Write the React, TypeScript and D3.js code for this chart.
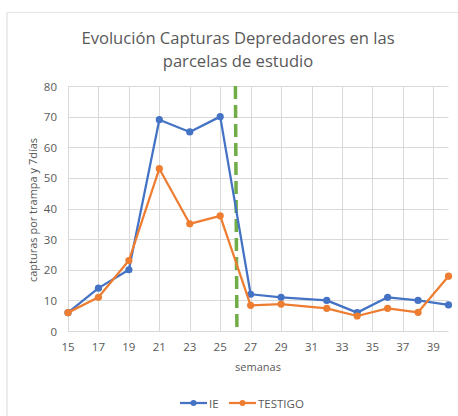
import React, { useEffect, useRef } from 'react';
import * as d3 from 'd3';

// semanas de muestreo
const semanas = [15, 17, 19, 21, 23, 25, 27, 29, 32, 34, 36, 38, 40];
const ieValues = [6, 14, 20, 69, 65, 70, 12, 11, 10, 6, 11, 10, 8.5];
const testigoValues = [6, 11, 23, 53, 35, 37.6, 8.4, 8.8, 7.4, 4.9, 7.4, 6.1, 17.9];
const xTicks = [15, 17, 19, 21, 23, 25, 27, 29, 31, 33, 35, 37, 39];
const yTicks = [0, 10, 20, 30, 40, 50, 60, 70, 80];
const cambioSemana = 26;
const seriesNames = ['IE', 'TESTIGO'];

const W = 458;
const H = 416;
const FONT = "'Open Sans', 'Noto Sans', sans-serif";
const TXT = '#595959';

const App: React.FC = () => {
  const ref = useRef<SVGSVGElement>(null);

  useEffect(() => {
    if (!ref.current) return;
    const svg = d3.select(ref.current);
    svg.selectAll('*').remove();

    const x = d3.scaleLinear().domain([15, 40]).range([68, 448.5]);
    const y = d3.scaleLinear().domain([0, 80]).range([331, 86]);

    svg.append('rect').attr('width', W).attr('height', H).attr('fill', '#fff');
    // borde de la hoja
    svg.append('line').attr('x1', 7).attr('x2', 7).attr('y1', 12).attr('y2', H)
      .attr('stroke', '#d9d9d9').attr('stroke-width', 1);
    svg.append('line').attr('x1', 7).attr('x2', W).attr('y1', 12.5).attr('y2', 12.5)
      .attr('stroke', '#e6e6e6').attr('stroke-width', 1);

    // titulo
    const title = svg.append('text')
      .attr('text-anchor', 'middle')
      .attr('font-family', FONT)
      .attr('font-size', 16.6)
      .attr('fill', TXT);
    title.append('tspan').attr('x', 238).attr('y', 44).text('Evolución Capturas Depredadores en las');
    title.append('tspan').attr('x', 238).attr('y', 67).text('parcelas de estudio');

    // rejilla
    const grid = svg.append('g');
    grid.selectAll('line.h').data(yTicks).enter().append('line')
      .attr('x1', x(15)).attr('x2', x(40))
      .attr('y1', (d) => Math.round(y(d)) + 0.5).attr('y2', (d) => Math.round(y(d)) + 0.5)
      .attr('stroke', '#d9d9d9').attr('stroke-width', 1);
    grid.selectAll('line.v').data(xTicks).enter().append('line')
      .attr('x1', (d) => Math.round(x(d)) + 0.5).attr('x2', (d) => Math.round(x(d)) + 0.5)
      .attr('y1', y(80)).attr('y2', y(0))
      .attr('stroke', '#d9d9d9').attr('stroke-width', 1);

    // etiquetas ejes
    svg.append('g').selectAll('text').data(yTicks).enter().append('text')
      .attr('x', 57).attr('y', (d) => y(d) + 4.5)
      .attr('text-anchor', 'end')
      .attr('font-family', FONT).attr('font-size', 11.5).attr('fill', TXT)
      .text((d) => d);
    svg.append('g').selectAll('text').data(xTicks).enter().append('text')
      .attr('x', (d) => x(d)).attr('y', 351)
      .attr('text-anchor', 'middle')
      .attr('font-family', FONT).attr('font-size', 11.5).attr('fill', TXT)
      .text((d) => d);

    svg.append('text')
      .attr('transform', `translate(37,210) rotate(-90)`)
      .attr('text-anchor', 'middle')
      .attr('font-family', FONT).attr('font-size', 11).attr('fill', TXT)
      .text('capturas por trampa y 7días');
    svg.append('text')
      .attr('x', 258).attr('y', 371)
      .attr('text-anchor', 'middle')
      .attr('font-family', FONT).attr('font-size', 11).attr('fill', TXT)
      .text('semanas');

    // linea de cambio
    svg.append('line')
      .attr('x1', x(cambioSemana)).attr('x2', x(cambioSemana) + 1.5)
      .attr('y1', y(80)).attr('y2', y(0))
      .attr('stroke', '#70ad47').attr('stroke-width', 3.5)
      .attr('stroke-dasharray', '13,6');

    const line = d3.line<number>().x((_, i) => x(semanas[i])).y((d) => y(d));
    const series = [
      { name: seriesNames[0], values: ieValues, color: '#4472c4' },
      { name: seriesNames[1], values: testigoValues, color: '#ed7d31' },
    ];
    series.forEach((s) => {
      svg.append('path').attr('d', line(s.values))
        .attr('fill', 'none').attr('stroke', s.color).attr('stroke-width', 2.25)
        .attr('stroke-linejoin', 'round');
      svg.append('g').selectAll('circle').data(s.values).enter().append('circle')
        .attr('cx', (_, i) => x(semanas[i])).attr('cy', (d) => y(d))
        .attr('r', 3.6).attr('fill', s.color);
    });

    // leyenda
    const legend = svg.append('g').attr('font-family', FONT).attr('font-size', 11.5).attr('fill', TXT);
    const lx = [180, 229];
    series.forEach((s, i) => {
      legend.append('line').attr('x1', lx[i]).attr('x2', lx[i] + 27)
        .attr('y1', 403).attr('y2', 403).attr('stroke', s.color).attr('stroke-width', 2.25);
      legend.append('circle').attr('cx', lx[i] + 13.5).attr('cy', 403).attr('r', 3).attr('fill', s.color);
      legend.append('text').attr('x', lx[i] + 29).attr('y', 407.5).text(s.name);
    });
  }, []);

  return (
    <svg ref={ref} width={W} height={H} style={{ position: 'absolute', left: 0, top: 0 }} />
  );
};

export default App;
